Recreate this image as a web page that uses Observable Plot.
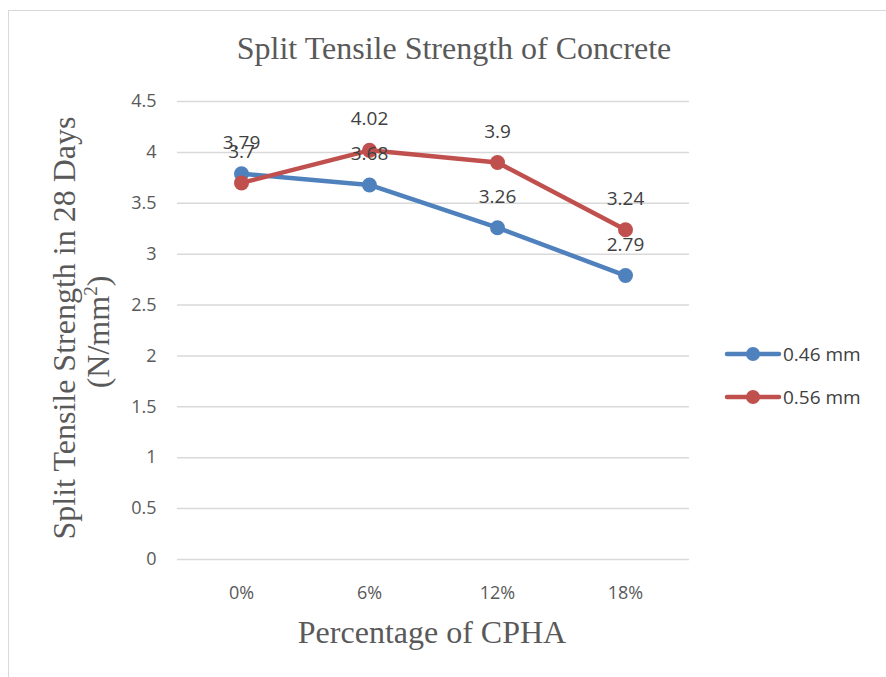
<!DOCTYPE html>
<html>
<head>
<meta charset="utf-8">
<script src="https://cdn.jsdelivr.net/npm/d3@7"></script>
<script src="https://cdn.jsdelivr.net/npm/@observablehq/plot@0.6"></script>
<style>
  body { margin: 0; background: #fff; }
  #wrap { position: relative; width: 886px; height: 677px; overflow: hidden; background: #fff; }
  #frame { position: absolute; left: 8px; top: 10px; width: 890px; height: 680px; border: 1px solid #d9d9d9; box-sizing: border-box; }
  .serif { font-family: "Liberation Serif", "Times New Roman", serif; color: #595959; position: absolute; white-space: nowrap; line-height: 1; }
  #title { left: 454px; top: 32px; transform: translateX(-50%); font-size: 32px; }
  #xlabel { left: 432px; top: 616px; transform: translateX(-50%); font-size: 32px; }
  .ylab { font-size: 32px; }
  #legend { position: absolute; left: 724px; top: 340px; font-family: "Open Sans", "Noto Sans", sans-serif; font-size: 19px; color: #404040; }
  .li { display: flex; align-items: center; height: 28px; margin-bottom: 15px; }
  .li svg { margin-right: 1px; }
  #chart { position: absolute; left: 0; top: 0; }
</style>
</head>
<body>
<div id="wrap">
  <div id="frame"></div>
  <div id="chart"></div>
  <div id="title" class="serif">Split Tensile Strength of Concrete</div>
  <div id="xlabel" class="serif">Percentage of CPHA</div>
  <div id="ylab1" class="serif ylab">Split Tensile Strength in 28 Days</div>
  <div id="ylab2" class="serif ylab">(N/mm<sup style="font-size:19px;vertical-align:12px;line-height:0">2</sup>)</div>
  <div id="legend"></div>
</div>
<script>
const categories = ["0%", "6%", "12%", "18%"];
const series046 = [3.79, 3.68, 3.26, 2.79];
const series056 = [3.7, 4.02, 3.9, 3.24];
const seriesNames = ["0.46 mm", "0.56 mm"];
const seriesColors = ["#4f81bd", "#c0504d"];
const yTicks = [0, 0.5, 1, 1.5, 2, 2.5, 3, 3.5, 4, 4.5];

const data = [];
categories.forEach((c, i) => data.push({cat: c, v: series046[i], s: seriesNames[0]}));
categories.forEach((c, i) => data.push({cat: c, v: series056[i], s: seriesNames[1]}));

const plot = Plot.plot({
  width: 886,
  height: 677,
  marginLeft: 177,
  marginRight: 197,
  marginTop: 101,
  marginBottom: 118,
  style: {fontFamily: "'Open Sans', 'Noto Sans', sans-serif", fontSize: "18px", color: "#595959", background: "transparent"},
  x: {type: "point", domain: categories, padding: 0.5, label: null},
  y: {domain: [0, 4.5], label: null},
  color: {domain: seriesNames, range: seriesColors},
  marks: [
    Plot.ruleY(yTicks, {stroke: "#d9d9d9", strokeWidth: 1.5, strokeOpacity: 1}),
    Plot.axisY({ticks: yTicks, tickSize: 0, tickPadding: 21, tickFormat: d => String(d), label: null, fontSize: 18}),
    Plot.axisX({tickSize: 0, tickPadding: 27, label: null, fontSize: 18}),
    Plot.line(data, {x: "cat", y: "v", z: "s", stroke: "s", strokeWidth: 4.5, strokeLinecap: "round", strokeLinejoin: "round"}),
    Plot.dot(data, {x: "cat", y: "v", fill: "s", r: 7.5, stroke: "none"}),
    Plot.text(data, {x: "cat", y: "v", text: d => String(d.v), dy: -31, fill: "#404040", fontSize: 19})
  ]
});
document.getElementById("chart").appendChild(plot);

// legend
const leg = document.getElementById("legend");
seriesNames.forEach((n, i) => {
  const row = document.createElement("div");
  row.className = "li";
  row.innerHTML = `<svg width="58" height="16"><line x1="3" y1="8" x2="55" y2="8" stroke="${seriesColors[i]}" stroke-width="4.5" stroke-linecap="round"/><circle cx="29" cy="8" r="7" fill="${seriesColors[i]}"/></svg><span>${n}</span>`;
  leg.appendChild(row);
});

// y labels rotated
function placeY(id, cx, cy) {
  const el = document.getElementById(id);
  const w = el.offsetWidth, h = el.offsetHeight;
  el.style.left = (cx - w / 2) + "px";
  el.style.top = (cy - h / 2) + "px";
  el.style.transform = "rotate(-90deg)";
}
placeY("ylab1", 64, 328);
placeY("ylab2", 98, 332);
</script>
</body>
</html>
